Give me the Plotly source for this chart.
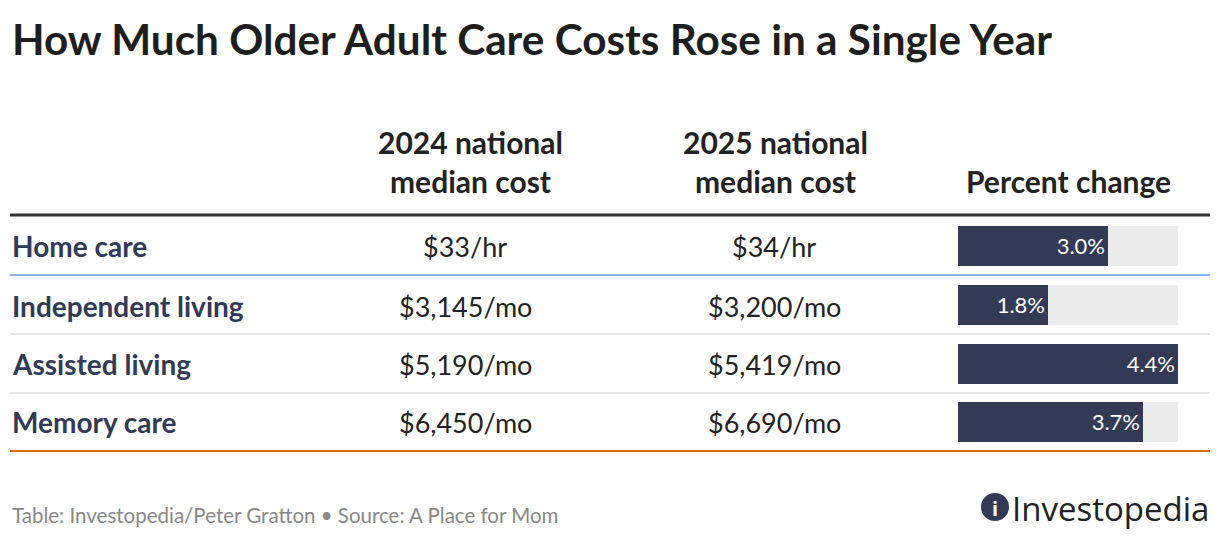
import plotly.graph_objects as go

# table data
care_types = ['Home care', 'Independent living', 'Assisted living', 'Memory care']
cost_2024 = ['$33/hr', '$3,145/mo', '$5,190/mo', '$6,450/mo']
cost_2025 = ['$34/hr', '$3,200/mo', '$5,419/mo', '$6,690/mo']
pct_change = [3.0, 1.8, 4.4, 3.7]
headers = ['2024 national<br>median cost', '2025 national<br>median cost', 'Percent change']

W, H = 1220, 538
FONT = 'Lato'
NAVY = '#333a56'


def px(x):
    return x / W


def py(y):
    return 1 - y / H


fig = go.Figure()

# grey track behind each bar, full scale = largest change
fig.add_trace(go.Bar(
    x=[max(pct_change)] * len(pct_change), y=care_types, orientation='h',
    marker=dict(color='#ececec', line=dict(width=0)), width=0.68,
    hoverinfo='skip', showlegend=False,
))
fig.add_trace(go.Bar(
    x=pct_change, y=care_types, orientation='h',
    marker=dict(color=NAVY, line=dict(width=0)), width=0.68,
    text=[f'{v:.1f}%' for v in pct_change],
    textposition='inside', insidetextanchor='end',
    textfont=dict(family=FONT, size=22, color='white'),
    cliponaxis=False, showlegend=False,
    hovertemplate='%{y}: %{x:.1f}%<extra></extra>',
))

row_y = [246, 306, 364, 422]
annotations = []
for name, a, b, y in zip(care_types, cost_2024, cost_2025, row_y):
    annotations.append(dict(x=px(10), y=py(y), text=f'<b>{name}</b>', xanchor='left',
                            font=dict(size=28, color=NAVY)))
    annotations.append(dict(x=px(465), y=py(y), text=a, xanchor='center',
                            font=dict(size=27, color='#222')))
    annotations.append(dict(x=px(774), y=py(y), text=b, xanchor='center',
                            font=dict(size=27, color='#222')))

for txt, x, y in zip(headers, [470, 775, 1068], [162, 162, 181]):
    annotations.append(dict(x=px(x), y=py(y), text=f'<b>{txt}</b>', xanchor='center',
                            font=dict(size=30, color='#222')))

annotations.append(dict(x=px(10), y=py(39), text='<b>How Much Older Adult Care Costs Rose in a Single Year</b>',
                        xanchor='left', font=dict(size=42.3, color='#1e1e1e')))
annotations.append(dict(x=px(10), y=py(515), text='Table: Investopedia/Peter Gratton \u2022 Source: A Place for Mom',
                        xanchor='left', font=dict(size=20.5, color='#888')))
annotations.append(dict(x=px(1211), y=py(508), text='Investopedia', xanchor='right',
                        font=dict(family='Open Sans', size=33, color='#222')))
# white "i" inside the logo circle
annotations.append(dict(x=px(995), y=py(508), text='<b>i</b>', xanchor='center',
                        font=dict(family='Open Sans', size=20, color='white')))
for a in annotations:
    a.update(xref='paper', yref='paper', showarrow=False, yanchor='middle')

# rule lines under the header and between rows
rules = [(215, '#333333', 3), (275, '#8ab4f8', 2), (334, '#e6e6e6', 2),
         (393, '#e6e6e6', 2), (451, '#d96d00', 2)]
shapes = [dict(type='line', xref='paper', yref='paper', x0=px(10), x1=px(1210),
               y0=py(y), y1=py(y), line=dict(color=c, width=w)) for y, c, w in rules]
# logo mark
shapes.append(dict(type='circle', xref='paper', yref='paper', x0=px(981), x1=px(1009),
                   y0=py(521), y1=py(493), fillcolor=NAVY, line=dict(width=0), layer='below'))

fig.update_layout(
    width=W, height=H,
    margin=dict(l=0, r=0, t=0, b=0),
    paper_bgcolor='white', plot_bgcolor='white',
    font=dict(family=FONT),
    barmode='overlay', bargap=0,
    xaxis=dict(domain=[px(958), px(1178)], range=[0, max(pct_change)],
               visible=False, fixedrange=True),
    yaxis=dict(domain=[py(451.3), py(216.7)], autorange='reversed',
               visible=False, fixedrange=True),
    annotations=annotations,
    shapes=shapes,
)

fig.write_html('out.html', config={'displayModeBar': False},
               post_script="document.body.style.margin='0';")
